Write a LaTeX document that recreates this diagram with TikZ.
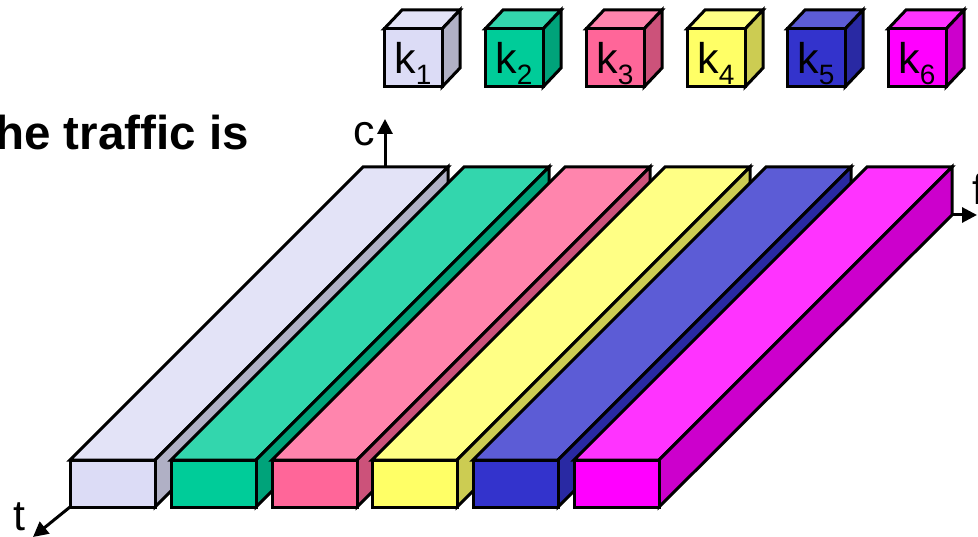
\documentclass[tikz,border=0pt]{standalone}
\usepackage{fontspec}
\setmainfont{Liberation Sans}
\usetikzlibrary{arrows.meta}
\definecolor{front1}{HTML}{DCDCF6}
\definecolor{top1}{HTML}{E3E3F7}
\definecolor{side1}{HTML}{B0B0C5}
\definecolor{front2}{HTML}{00CC99}
\definecolor{top2}{HTML}{33D6AD}
\definecolor{side2}{HTML}{00A37A}
\definecolor{front3}{HTML}{FF6699}
\definecolor{top3}{HTML}{FF85AD}
\definecolor{side3}{HTML}{CC527A}
\definecolor{front4}{HTML}{FFFF66}
\definecolor{top4}{HTML}{FFFF85}
\definecolor{side4}{HTML}{CCCC52}
\definecolor{front5}{HTML}{3333CC}
\definecolor{top5}{HTML}{5C5CD6}
\definecolor{side5}{HTML}{2929A3}
\definecolor{front6}{HTML}{FF00FF}
\definecolor{top6}{HTML}{FF33FF}
\definecolor{side6}{HTML}{CC00CC}
\tikzstyle{face} = [draw, line width=3pt, line join=miter]
\tikzstyle{axis} = [draw, line width=3pt, -{Triangle[length=15pt,width=15pt]}]
\tikzstyle{axislabel} = [anchor=base, inner sep=0pt, font=\fontsize{43}{43}\selectfont]
\tikzstyle{keylabel} = [anchor=base, inner sep=0pt, font=\fontsize{43}{43}\selectfont]
\newcommand{\keysub}[1]{\raisebox{-11pt}{\fontsize{28}{28}\selectfont #1}}

\begin{document}
\begin{tikzpicture} [x=1pt,y=-1pt]

		\useasboundingbox (0,0) rectangle (978,537);

		% legend cubes
		\foreach \n/\x in {1/384,2/485,3/586,4/687,5/787,6/888} {
			\draw [face,fill=top\n] (\x,29) -- (\x+18,10) -- (\x+76,10) -- (\x+58,29) -- cycle;
			\draw [face,fill=side\n] (\x+58,29) -- (\x+76,10) -- (\x+76,68) -- (\x+58,87) -- cycle;
			\draw [face,fill=front\n] (\x,29) rectangle (\x+58,87);
			\node [keylabel] (key\n) at (\x+29,74) {k\keysub{\n}};
		}

		% bars
		\foreach \n/\x in {1/70,2/171,3/272,4/372,5/473,6/574} {
			\draw [face,fill=top\n] (\x,460) -- (\x+293,167) -- (\x+378,167) -- (\x+85,460) -- cycle;
			\draw [face,fill=side\n] (\x+85,460) -- (\x+378,167) -- (\x+378,215) -- (\x+85,507) -- cycle;
			\draw [face,fill=front\n] (\x,460) rectangle (\x+85,507);
		}

		% axes
		\coordinate (origc) at (385,167);
		\coordinate (tipc) at (385,119);
		\coordinate (origf) at (952,215);
		\coordinate (tipf) at (977,215);
		\coordinate (origt) at (70,507);
		\coordinate (tipt) at (33,537);
		\draw [axis] (origc) -- (tipc);
		\draw [axis] (origf) -- (tipf);
		\draw [axis] (origt) -- (tipt);
		\node [axislabel] (labelc) at (364,146) {c};
		\node [axislabel] (labelf) at (978,205) {f};
		\node [axislabel] (labelt) at (19,530) {t};

		\node [anchor=base east, inner sep=0pt, font=\fontsize{47.5}{47.5}\selectfont\bfseries] (traffic) at (249,150) {he traffic is};

\end{tikzpicture}
\end{document}
